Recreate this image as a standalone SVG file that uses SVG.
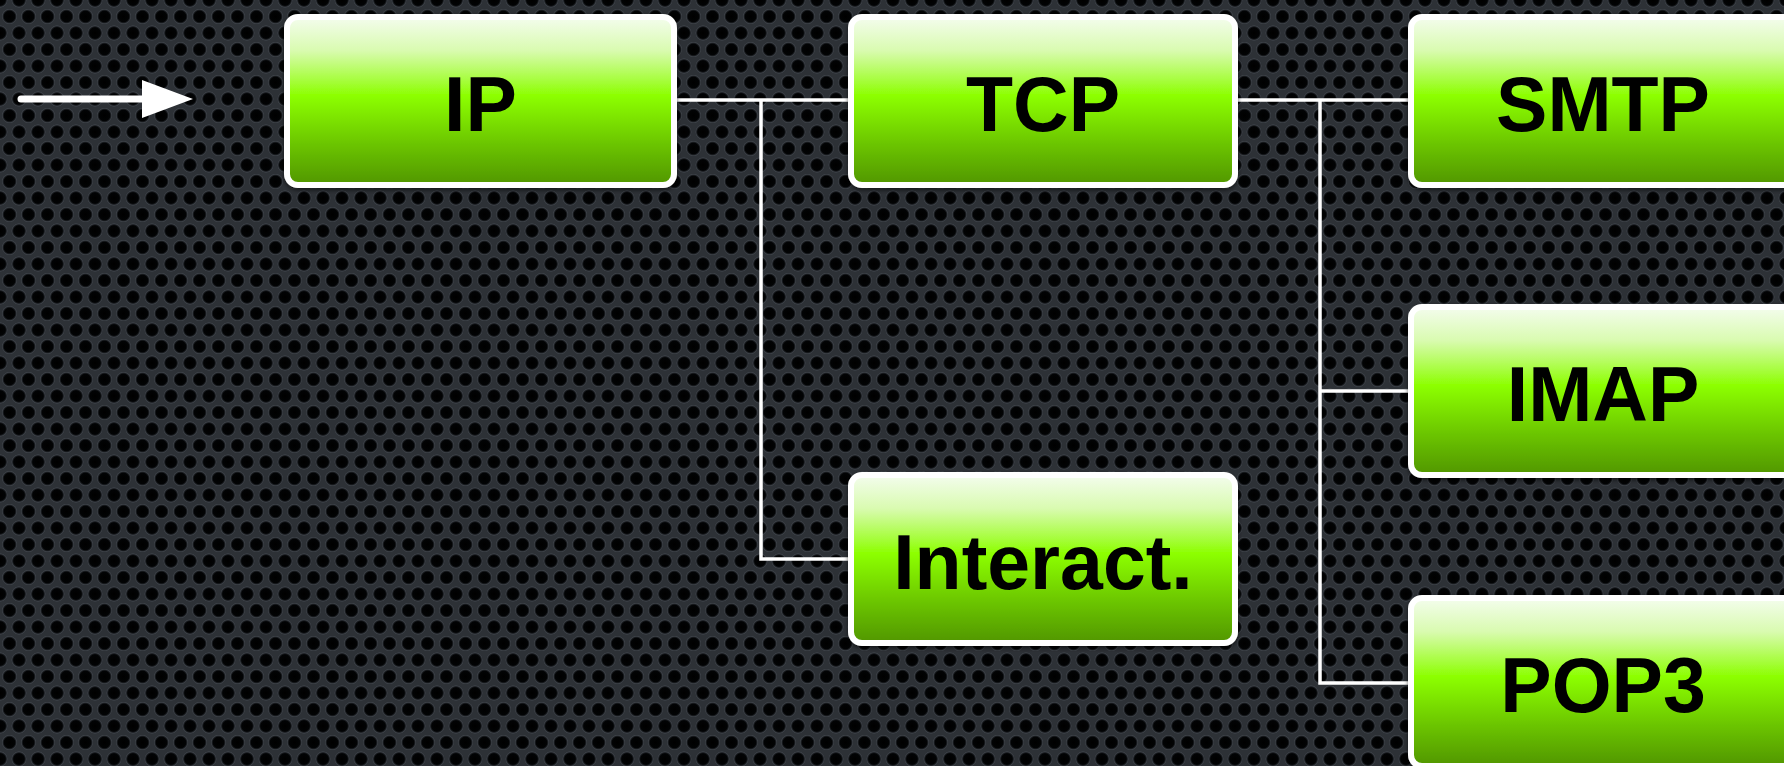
<svg xmlns="http://www.w3.org/2000/svg" width="1784" height="766" viewBox="0 0 1784 766">
  <defs>
    <radialGradient id="hole" cx="0.5" cy="0.5" r="0.5">
      <stop offset="0" stop-color="#000000"/>
      <stop offset="0.72" stop-color="#020304"/>
      <stop offset="0.86" stop-color="#1c1f23"/>
      <stop offset="1" stop-color="#464b52"/>
    </radialGradient>
    <pattern id="mesh" width="19" height="33" patternUnits="userSpaceOnUse">
      <rect width="19" height="33" fill="#2d3136"/>
      <g fill="url(#hole)">
        <circle cx="0" cy="0" r="7.4"/>
        <circle cx="19" cy="0" r="7.4"/>
        <circle cx="9.5" cy="16.5" r="7.4"/>
        <circle cx="0" cy="33" r="7.4"/>
        <circle cx="19" cy="33" r="7.4"/>
      </g>
    </pattern>
    <linearGradient id="green" x1="0" y1="0" x2="0" y2="1">
      <stop offset="0" stop-color="#f4fdee"/>
      <stop offset="0.2" stop-color="#d9fbb0"/>
      <stop offset="0.47" stop-color="#8cff00"/>
      <stop offset="0.75" stop-color="#6cc600"/>
      <stop offset="1" stop-color="#519600"/>
    </linearGradient>
    <filter id="shadow" x="-10%" y="-10%" width="120%" height="130%">
      <feDropShadow dx="0" dy="2" stdDeviation="2" flood-color="#000" flood-opacity="0.6"/>
    </filter>
  </defs>
  <style>
    .box { fill: url(#green); stroke: #ffffff; stroke-width: 6; filter: url(#shadow); }
    .label { font-family: "Liberation Sans", Arial, sans-serif; font-weight: bold; font-size: 77px; fill: #000; text-anchor: middle; }
    .conn { fill: none; stroke: #ffffff; stroke-width: 3.5; }
  </style>

  <rect width="1784" height="766" fill="url(#mesh)"/>

  <g id="connectors">
    <path class="conn" d="M677 100 H848 M761 100 V559 H848"/>
    <path class="conn" d="M1238 100 H1408 M1320 100 V683 H1408 M1320 391 H1408"/>
    <g id="entry-arrow">
      <line x1="21" y1="99" x2="146" y2="99" stroke="#ffffff" stroke-width="7" stroke-linecap="round"/>
      <polygon points="142,80 193,99 142,118" fill="#ffffff"/>
    </g>
  </g>

  <g id="node-ip">
    <rect class="box" x="287" y="17" width="387" height="168" rx="11"/>
    <text class="label" x="480.5" y="131">IP</text>
  </g>
  <g id="node-tcp">
    <rect class="box" x="851" y="17" width="384" height="168" rx="11"/>
    <text class="label" x="1043" y="131">TCP</text>
  </g>
  <g id="node-smtp">
    <rect class="box" x="1411" y="17" width="384" height="168" rx="11"/>
    <text class="label" x="1603" y="131">SMTP</text>
  </g>
  <g id="node-imap">
    <rect class="box" x="1411" y="307" width="384" height="168" rx="11"/>
    <text class="label" x="1603" y="421">IMAP</text>
  </g>
  <g id="node-pop3">
    <rect class="box" x="1411" y="598" width="384" height="168" rx="11"/>
    <text class="label" x="1603" y="712">POP3</text>
  </g>
  <g id="node-interact">
    <rect class="box" x="851" y="475" width="384" height="168" rx="11"/>
    <text class="label" x="1043" y="589">Interact.</text>
  </g>
</svg>
